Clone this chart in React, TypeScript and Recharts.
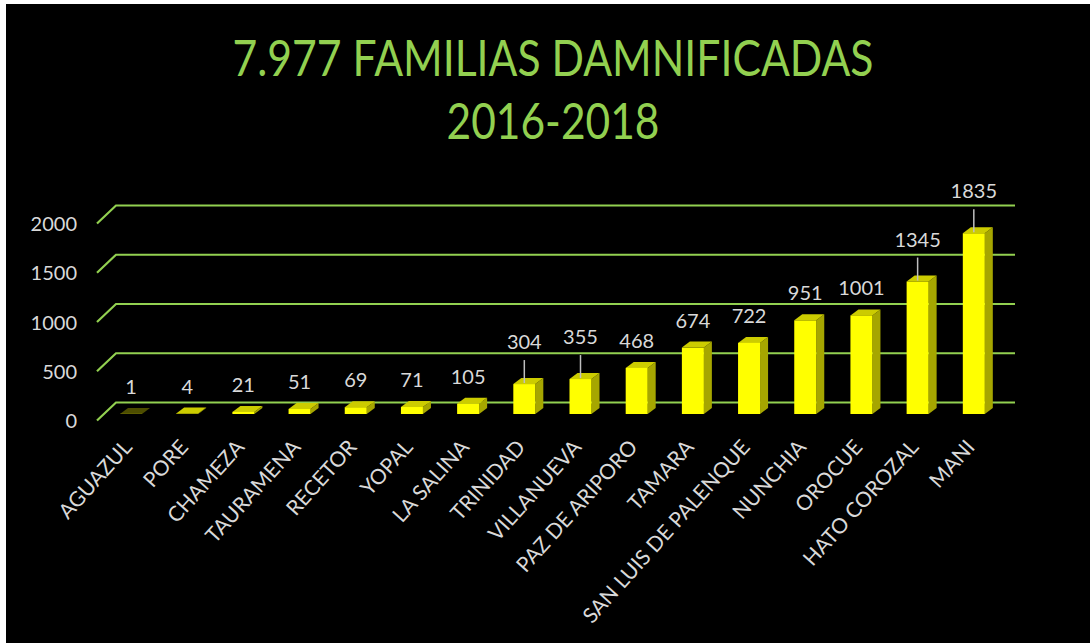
import React from "react";
import { BarChart, Bar, XAxis, YAxis, CartesianGrid, LabelList } from "recharts";

const municipios = [
  "AGUAZUL", "PORE", "CHAMEZA", "TAURAMENA", "RECETOR", "YOPAL", "LA SALINA",
  "TRINIDAD", "VILLANUEVA", "PAZ DE ARIPORO", "TAMARA", "SAN LUIS DE PALENQUE",
  "NUNCHIA", "OROCUE", "HATO COROZAL", "MANI",
];
const familias = [1, 4, 21, 51, 69, 71, 105, 304, 355, 468, 674, 722, 951, 1001, 1345, 1835];
const yTicks = [0, 500, 1000, 1500, 2000];
const titleLines = ["7.977 FAMILIAS DAMNIFICADAS", "2016-2018"];
const leaderLabels = ["TRINIDAD", "VILLANUEVA", "HATO COROZAL", "MANI"];

const data = municipios.map((m, i) => ({ name: m, value: familias[i] }));

const GREEN = "#92D050";
const TEXT = "#D9D9D9";
const FONT = "Lato, 'Open Sans', sans-serif";
const DX = 8;
const DY = -6;

const Bar3D = (props: any) => {
  const { x, y, width, height } = props;
  const h = Math.max(height, 0);
  const topColor = h < 0.2 ? "#4D4D00" : "#CCCC00";
  return (
    <g>
      <polygon
        points={`${x + width},${y} ${x + width + DX},${y + DY} ${x + width + DX},${y + h + DY} ${x + width},${y + h}`}
        fill="#A6A600"
      />
      <polygon
        points={`${x},${y} ${x + DX},${y + DY} ${x + width + DX},${y + DY} ${x + width},${y}`}
        fill={topColor}
      />
      <rect x={x} y={y} width={width} height={h} fill="#FFFF00" />
    </g>
  );
};

const gridLine = (props: any) => {
  const { x1, x2, y1 } = props;
  const d = `M ${x1 - 6} ${y1 + 6.5} L ${x1 + 13} ${y1 - 11.5} L ${x2 + 13} ${y1 - 11.5}`;
  return <path key={`g-${y1}`} d={d} stroke={GREEN} strokeWidth={2.2} fill="none" />;
};

const YTick = (props: any) => {
  const { y, payload } = props;
  return (
    <text x={77} y={y + 7} dy="0.35em" textAnchor="end" fill={TEXT} fontSize={20} fontFamily={FONT}>
      {payload.value}
    </text>
  );
};

const XTick = (props: any) => {
  const { x, payload } = props;
  const ax = x + 2;
  const ay = 448;
  return (
    <text
      x={ax}
      y={ay}
      textAnchor="end"
      fill={TEXT}
      fontSize={21}
      fontFamily={FONT}
      transform={`rotate(-48 ${ax} ${ay})`}
    >
      {payload.value}
    </text>
  );
};

const ValueLabel = (props: any) => {
  const { x, y, width, value, index } = props;
  const cx = x + width / 2;
  const leader = leaderLabels.includes(municipios[index]);
  const center = y - (leader ? 42 : 27);
  return (
    <g>
      {leader && (
        <line x1={cx} y1={y - 1} x2={cx} y2={center + 18} stroke="#BFBFBF" strokeWidth={1.5} />
      )}
      <text x={cx} y={center} dy="0.35em" textAnchor="middle" fill={TEXT} fontSize={20} fontFamily={FONT}>
        {value}
      </text>
    </g>
  );
};

export default function App() {
  return (
    <div style={{ position: "fixed", left: 0, top: 0, width: 1090, height: 643, background: "#ffffff", overflow: "hidden" }}>
      <div style={{ position: "absolute", left: 6, top: 4, right: 0, bottom: 0, background: "#000000" }} />
      <svg width={1090} height={643} style={{ position: "absolute", left: 0, top: 0 }}>
        <text x={553} y={76} textAnchor="middle" fill={GREEN} fontSize={50} fontFamily={FONT}
          textLength={641} lengthAdjust="spacingAndGlyphs">{titleLines[0]}</text>
        <text x={553} y={139} textAnchor="middle" fill={GREEN} fontSize={50} fontFamily={FONT}
          textLength={213} lengthAdjust="spacingAndGlyphs">{titleLines[1]}</text>
      </svg>
      <div style={{ position: "absolute", left: 0, top: 0 }}>
        <BarChart
          width={1090}
          height={643}
          data={data}
          margin={{ top: 217, right: 88, bottom: 29, left: 43 }}
          barCategoryGap={0}
        >
          <CartesianGrid vertical={false} horizontal={gridLine} />
          <XAxis dataKey="name" interval={0} axisLine={false} tickLine={false} height={200} tick={<XTick />} />
          <YAxis domain={[0, 2000]} ticks={yTicks} axisLine={false} tickLine={false} width={60} tick={<YTick />} />
          <Bar dataKey="value" barSize={22} shape={<Bar3D />} isAnimationActive={false}>
            <LabelList dataKey="value" content={<ValueLabel />} />
          </Bar>
        </BarChart>
      </div>
    </div>
  );
}
